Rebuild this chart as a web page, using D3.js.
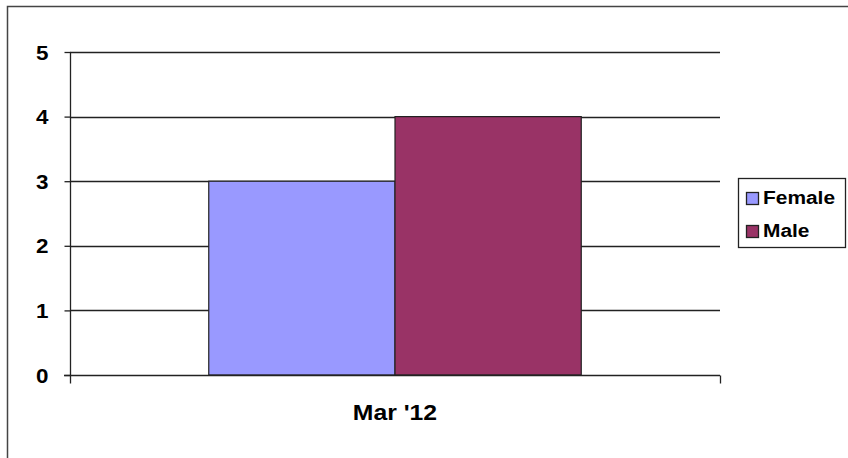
<!DOCTYPE html>
<html><head><meta charset="utf-8">
<script src="https://cdn.jsdelivr.net/npm/d3@7"></script>
<style>body{margin:0;background:#fff}svg{display:block}</style>
</head><body>
<svg id="c" width="848" height="458"></svg>
<script>
const categories = ["Mar '12"];
const seriesNames = ["Female", "Male"];
const femaleValues = [3];
const maleValues = [4];
const yTicks = [0, 1, 2, 3, 4, 5];
const colors = ["#9999FF", "#993366"];

(function () {
const svg = d3.select("#c");
const font = "Arial, 'Liberation Sans', sans-serif";
// outer frame
svg.append("rect").attr("x", 7.5).attr("y", 6.5).attr("width", 850).attr("height", 460)
  .attr("fill", "none").attr("stroke", "#444").attr("stroke-width", 1.5);

const pLeft = 70, pRight = 720, pTop = 52, pBottom = 375;
const y = d3.scaleLinear().domain([0, 5]).range([pBottom, pTop]);
const x0 = d3.scaleBand().domain(categories).range([pLeft, pRight]).paddingInner(0).paddingOuter(0);
const x1 = d3.scaleBand().domain(seriesNames).range([0, x0.bandwidth()]).paddingInner(0).paddingOuter(0.745);

// gridlines
svg.append("g").selectAll("line").data(yTicks.filter(d => d > 0)).join("line")
  .attr("x1", pLeft).attr("x2", pRight).attr("y1", d => Math.round(y(d)) + 0.5).attr("y2", d => Math.round(y(d)) + 0.5)
  .attr("stroke", "#222").attr("stroke-width", 1.3);

// bars
const data = categories.map((c, i) => ({c, vals: [femaleValues[i], maleValues[i]]}));
const g = svg.append("g");
data.forEach(d => {
  d.vals.forEach((v, j) => {
    g.append("rect")
      .attr("x", x0(d.c) + x1(seriesNames[j]))
      .attr("y", y(v))
      .attr("width", x1.bandwidth())
      .attr("height", y(0) - y(v))
      .attr("fill", colors[j]).attr("stroke", "#222").attr("stroke-width", 1.2);
  });
});

// y axis
const yAxis = d3.axisLeft(y).tickValues(yTicks).tickSize(6).tickFormat(d3.format("d"));
const ya = svg.append("g").attr("transform", `translate(${pLeft + 0.5},0)`).call(yAxis);
ya.select(".domain").attr("stroke", "#222").attr("stroke-width", 1.3).attr("d", `M0,${pTop}V${pBottom}`);
ya.selectAll(".tick line").attr("stroke", "#222").attr("stroke-width", 1.3);
ya.selectAll(".tick text").attr("x", 0).attr("dy", "0.36em")
  .attr("transform", "translate(-22,0) scale(1.15,1)")
  .style("font-family", font).style("font-weight", "bold").style("font-size", "19.5px").attr("fill", "#000");

// x axis
const xa = svg.append("g").attr("transform", `translate(0,${pBottom + 0.5})`);
xa.append("line").attr("x1", pLeft - 6).attr("x2", pRight).attr("y1", 0).attr("y2", 0).attr("stroke", "#222").attr("stroke-width", 1.3);
[pLeft, pRight].forEach(px => xa.append("line").attr("x1", px + 0.5).attr("x2", px + 0.5).attr("y1", 0).attr("y2", 8).attr("stroke", "#222").attr("stroke-width", 1.3));
xa.selectAll("text.cat").data(categories).join("text").attr("class", "cat")
  .attr("transform", d => `translate(${x0(d) + x0.bandwidth() / 2},44) scale(1.1,1)`)
  .attr("text-anchor", "middle").style("font-family", font).style("font-weight", "bold").style("font-size", "22.5px")
  .text(d => d);

// legend
const lg = svg.append("g");
lg.append("rect").attr("x", 738.5).attr("y", 178.5).attr("width", 107).attr("height", 69)
  .attr("fill", "#fff").attr("stroke", "#222").attr("stroke-width", 1.3);
seriesNames.forEach((s, i) => {
  const base = 204 + i * 33;
  lg.append("rect").attr("x", 746.5).attr("y", base - 11.5).attr("width", 12).attr("height", 12)
    .attr("fill", colors[i]).attr("stroke", "#222").attr("stroke-width", 1.3);
  lg.append("text").attr("transform", `translate(763,${base}) scale(1.1,1)`)
    .style("font-family", font).style("font-weight", "bold").style("font-size", "19px").text(s);
});
})();
</script>
</body></html>
